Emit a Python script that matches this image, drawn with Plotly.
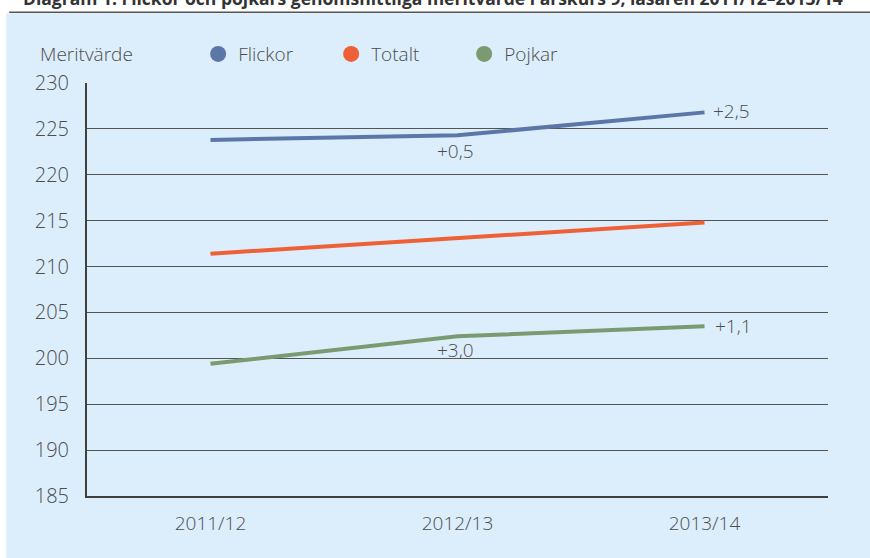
import plotly.graph_objects as go

years = ["2011/12", "2012/13", "2013/14"]
flickor = [223.8, 224.3, 226.8]
totalt = [211.4, 213.1, 214.8]
pojkar = [199.4, 202.4, 203.5]
y_ticks = [185, 190, 195, 200, 205, 210, 215, 220, 225, 230]

flickor_changes = ["+0,5", "+2,5"]
pojkar_changes = ["+3,0", "+1,1"]

series = [
    ("Flickor", flickor, "#5B77A8"),
    ("Totalt", totalt, "#EE6035"),
    ("Pojkar", pojkar, "#7A9B72"),
]

TXT = "#4d4d4d"
FONT = "Open Sans"
W = 300

fig = go.Figure()
for name, vals, col in series:
    fig.add_trace(go.Scatter(
        x=years, y=vals, mode="lines", name=name,
        line=dict(color=col, width=4), showlegend=False,
        hoverinfo="skip",
    ))
    fig.add_trace(go.Scatter(
        x=[None], y=[None], mode="markers", name=name,
        marker=dict(color=col, size=19, symbol="circle"),
        showlegend=True,
    ))

ann = []
ann.append(dict(x=years[1], y=flickor[1], text=flickor_changes[0], showarrow=False,
                xanchor="center", yanchor="middle", yshift=-16, xshift=-2))
ann.append(dict(x=years[2], y=flickor[2], text=flickor_changes[1], showarrow=False,
                xanchor="left", yanchor="middle", xshift=6, yshift=1))
ann.append(dict(x=years[1], y=pojkar[1], text=pojkar_changes[0], showarrow=False,
                xanchor="center", yanchor="middle", yshift=-14, xshift=-2))
ann.append(dict(x=years[2], y=pojkar[2], text=pojkar_changes[1], showarrow=False,
                xanchor="left", yanchor="middle", xshift=8, yshift=0))
for a in ann:
    a["font"] = dict(family=FONT, size=19, color=TXT, weight=W)

ann.append(dict(xref="paper", yref="paper", x=-0.0665, y=1.07, text="Meritvärde",
                showarrow=False, xanchor="left", yanchor="middle",
                font=dict(family=FONT, size=19, color=TXT, weight=W)))
ann.append(dict(xref="paper", yref="paper", x=0.467, y=1.2065,
                text="<b>Diagram 1. Flickor och pojkars genomsnittliga meritvärde i årskurs 9, läsåren 2011/12–2013/14</b>",
                showarrow=False, xanchor="center", yanchor="middle",
                font=dict(family=FONT, size=17.5, color="#333333")))

fig.update_layout(
    width=870, height=558,
    margin=dict(l=87, r=42, t=83, b=62, autoexpand=False),
    paper_bgcolor="#DCEEFB",
    plot_bgcolor="rgba(0,0,0,0)",
    font=dict(family=FONT, size=18, color=TXT),
    annotations=ann,
    showlegend=True,
    legend=dict(orientation="h", x=0.15, y=1.07, xanchor="left", yanchor="middle",
                bgcolor="rgba(0,0,0,0)", entrywidth=88, entrywidthmode="pixels",
                font=dict(family=FONT, size=19, color=TXT, weight=W), itemclick=False),
    shapes=[
        dict(type="rect", xref="paper", yref="paper", x0=-0.2, x1=1.1,
             y0=1.169, y1=1.3, fillcolor="white", line=dict(width=0), layer="below"),
        dict(type="rect", xref="paper", yref="paper", x0=-0.2, x1=-0.109,
             y0=-0.2, y1=1.3, fillcolor="white", line=dict(width=0), layer="below"),
        dict(type="line", xref="paper", yref="paper", x0=-0.105, x1=1.1,
             y0=1.1715, y1=1.1715, line=dict(color="#555555", width=1.5)),
    ],
)
fig.update_xaxes(
    type="category", range=[-0.5, 2.5], showgrid=False,
    showline=True, linecolor="#3f3f3f", linewidth=2,
    ticks="", tickfont=dict(family=FONT, size=19, color=TXT, weight=W), ticklabelstandoff=9,
)
fig.update_yaxes(
    range=[185, 230], tickvals=y_ticks, showgrid=True, gridcolor="#555550", gridwidth=1,
    showline=True, linecolor="#3f3f3f", linewidth=2, zeroline=False,
    ticks="", tickfont=dict(family=FONT, size=20, color=TXT, weight=W), ticklabelstandoff=12,
)
fig.write_html("out.html", config={"displayModeBar": False},
               post_script="document.body.style.margin='0';")
